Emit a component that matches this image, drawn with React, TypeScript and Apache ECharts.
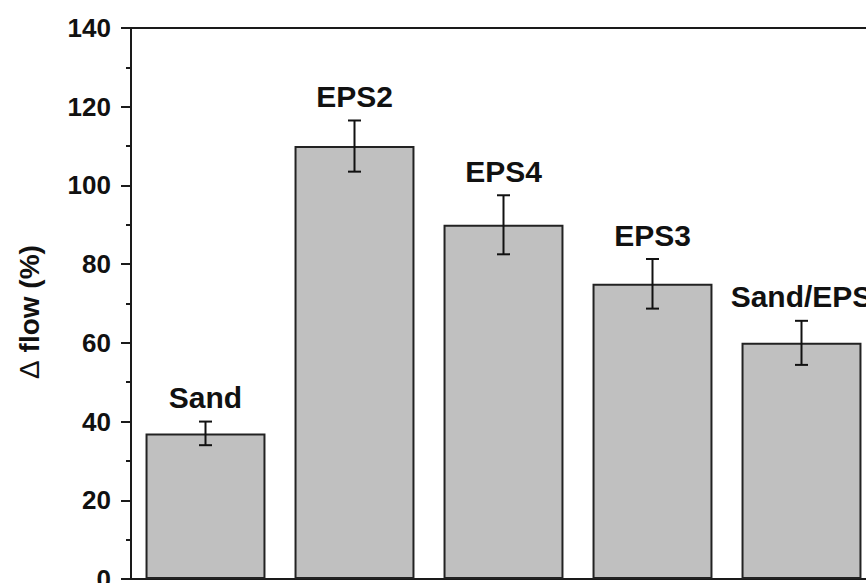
import React, { useEffect, useRef } from "react";
import * as echarts from "echarts";

const categories = ["Sand", "EPS2", "EPS4", "EPS3", "Sand/EPS"];
const values = [37, 110, 90, 75, 60];
const errors = [3, 6.5, 7.5, 6.3, 5.6];
const yTicks = { min: 0, max: 140, interval: 20 };

const FONT = "'Liberation Sans', Arial, sans-serif";

export default function App() {
  const ref = useRef<HTMLDivElement>(null);
  useEffect(() => {
    if (!ref.current) return;
    const chart = echarts.init(ref.current, null, { renderer: "svg" });
    const errData = values.map((v, i) => [i, v, errors[i]]);
    chart.setOption({
      animation: false,
      backgroundColor: "#ffffff",
      grid: {
        left: 131,
        top: 28,
        bottom: 4,
        width: 745,
        outerBoundsMode: "none",
        containLabel: false,
        show: true,
        borderColor: "#1a1a1a",
        borderWidth: 2,
        backgroundColor: "transparent",
      },
      xAxis: {
        type: "category",
        data: categories,
        axisLine: { show: true, lineStyle: { color: "#1a1a1a", width: 2 } },
        axisTick: { show: false },
        axisLabel: { show: false },
        splitLine: { show: false },
      },
      yAxis: {
        type: "value",
        min: yTicks.min,
        max: yTicks.max,
        interval: yTicks.interval,
        axisLine: { show: true, lineStyle: { color: "#1a1a1a", width: 2 } },
        axisTick: { show: true, inside: false, length: 10, lineStyle: { color: "#1a1a1a", width: 2 } },
        minorTick: { show: true, splitNumber: 2, length: 5, lineStyle: { color: "#1a1a1a", width: 2 } },
        splitLine: { show: false },
        axisLabel: {
          color: "#111",
          fontSize: 26,
          fontWeight: "bold",
          fontFamily: FONT,
          margin: 20,
        },
      },
      graphic: [
        {
          type: "text",
          x: 29,
          y: 312,
          rotation: Math.PI / 2,
          style: {
            text: "{d|Δ} flow (%)",
            rich: {
              d: { fontSize: 28, fontWeight: "normal", fontFamily: FONT, fill: "#111" },
            },
            fontSize: 28,
            fontWeight: "bold",
            fontFamily: FONT,
            fill: "#111",
            align: "center",
            verticalAlign: "middle",
          },
        },
      ],
      series: [
        {
          type: "bar",
          data: values,
          barCategoryGap: "19.5%",
          itemStyle: { color: "#c0c0c0", borderColor: "#222", borderWidth: 2 },
          z: 2,
        },
        {
          type: "custom",
          data: errData,
          z: 5,
          renderItem: (params: any, api: any) => {
            const i = api.value(0);
            const v = api.value(1);
            const e = api.value(2);
            const top = api.coord([i, v + e]);
            const bot = api.coord([i, v - e]);
            const x = top[0];
            const cap = 6.5;
            const ls = { stroke: "#111", lineWidth: 2 };
            return {
              type: "group",
              children: [
                { type: "line", shape: { x1: x, y1: top[1], x2: x, y2: bot[1] }, style: ls },
                { type: "line", shape: { x1: x - cap, y1: top[1], x2: x + cap, y2: top[1] }, style: ls },
                { type: "line", shape: { x1: x - cap, y1: bot[1], x2: x + cap, y2: bot[1] }, style: ls },
                {
                  type: "text",
                  x: x,
                  y: top[1] - 24,
                  style: {
                    text: categories[i],
                    fontSize: 30,
                    fontWeight: "bold",
                    fontFamily: FONT,
                    fill: "#111",
                    align: "center",
                    verticalAlign: "middle",
                  },
                },
              ],
            };
          },
        },
      ],
    });
    return () => chart.dispose();
  }, []);
  return <div ref={ref} style={{ width: 866, height: 583, position: "absolute", left: 0, top: 0 }} />;
}
